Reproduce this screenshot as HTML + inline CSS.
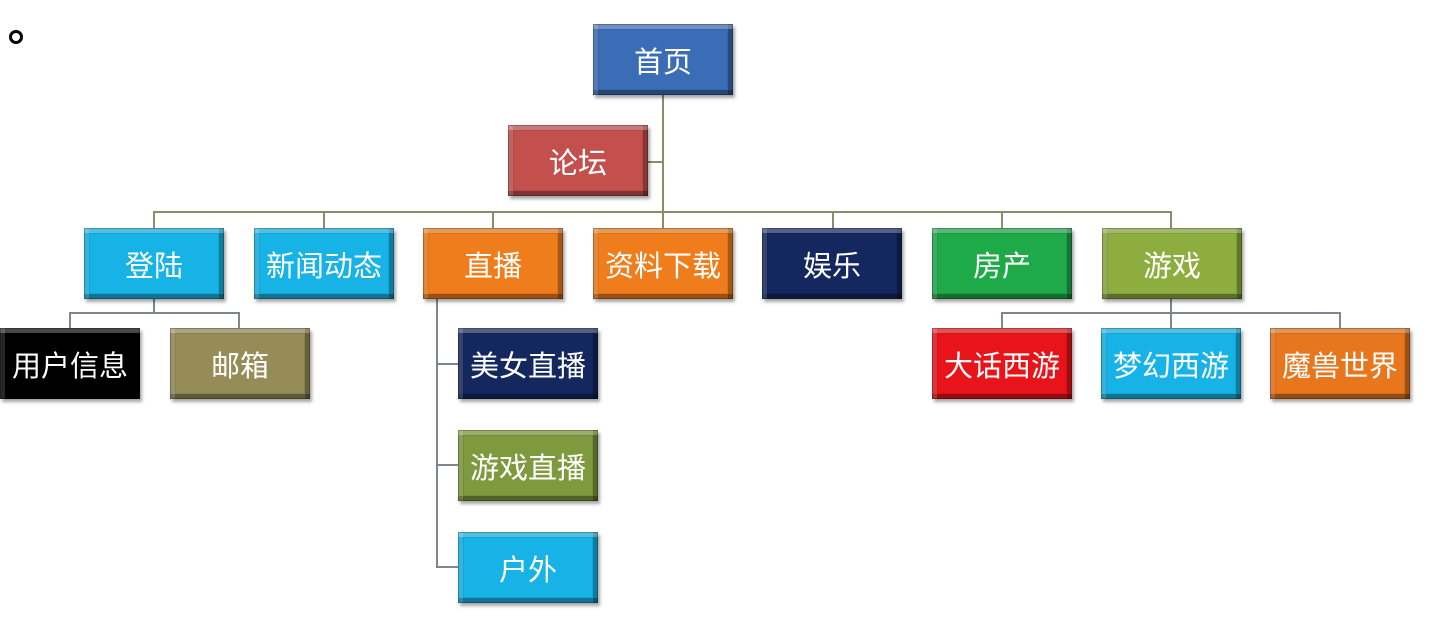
<!DOCTYPE html>
<html><head><meta charset="utf-8"><style>
body{margin:0;width:1453px;height:629px;background:#fff;position:relative;overflow:hidden;font-family:"Liberation Sans","Noto Sans CJK SC",sans-serif}
.b{position:absolute;width:140px;height:71px;box-sizing:border-box;color:#fff;font-size:29px;display:flex;align-items:center;justify-content:center;
box-shadow:inset 0 0 0 1px rgba(0,0,0,.25),inset 0 5px 0 rgba(255,255,255,.28),inset 5px 0 0 rgba(255,255,255,.15),inset -5px 0 0 rgba(0,0,0,.25),inset 0 -5px 0 rgba(0,0,0,.3),inset 0 0 0 6px rgba(0,0,0,.08),2px 3px 3px rgba(0,0,0,.35)}
.l{position:absolute;background:#8c8c6a}
.g{position:absolute;background:#7e8790}
</style></head><body>
<div style="position:absolute;left:9px;top:30px;width:8px;height:8px;border:3px solid #000;border-radius:50%"></div>
<!-- lines -->
<div class="l" style="left:662px;top:95px;width:2px;height:133px"></div>
<div class="l" style="left:648px;top:161px;width:15px;height:2px"></div>
<div class="l" style="left:153px;top:211px;width:1019px;height:2px"></div>
<div class="l" style="left:153px;top:211px;width:2px;height:17px"></div>
<div class="l" style="left:323px;top:211px;width:2px;height:17px"></div>
<div class="l" style="left:492px;top:211px;width:2px;height:17px"></div>
<div class="l" style="left:832px;top:211px;width:2px;height:17px"></div>
<div class="l" style="left:1001px;top:211px;width:2px;height:17px"></div>
<div class="l" style="left:1170px;top:211px;width:2px;height:17px"></div>
<div class="g" style="left:153px;top:298px;width:2px;height:15px"></div>
<div class="g" style="left:69px;top:312px;width:171px;height:2px"></div>
<div class="g" style="left:69px;top:312px;width:2px;height:16px"></div>
<div class="g" style="left:238px;top:312px;width:2px;height:16px"></div>
<div class="g" style="left:436px;top:298px;width:2px;height:270px"></div>
<div class="g" style="left:436px;top:363px;width:22px;height:2px"></div>
<div class="g" style="left:436px;top:464px;width:22px;height:2px"></div>
<div class="g" style="left:436px;top:566px;width:22px;height:2px"></div>
<div class="g" style="left:1170px;top:298px;width:2px;height:30px"></div>
<div class="g" style="left:1001px;top:312px;width:340px;height:2px"></div>
<div class="g" style="left:1001px;top:312px;width:2px;height:16px"></div>
<div class="g" style="left:1339px;top:312px;width:2px;height:16px"></div>
<!-- boxes -->
<div class="b" style="left:593px;top:24px;background:#3b6db6">首页</div>
<div class="b" style="left:508px;top:125px;background:#c4504e">论坛</div>
<div class="b" style="left:84px;top:228px;background:#17b3e6">登陆</div>
<div class="b" style="left:254px;top:228px;background:#17b3e6">新闻动态</div>
<div class="b" style="left:423px;top:228px;background:#f07d1c">直播</div>
<div class="b" style="left:593px;top:228px;background:#f07d1c">资料下载</div>
<div class="b" style="left:762px;top:228px;background:#14275e">娱乐</div>
<div class="b" style="left:932px;top:228px;background:#1faa4a">房产</div>
<div class="b" style="left:1102px;top:228px;background:#8dad3e">游戏</div>
<div class="b" style="left:0px;top:328px;background:#000">用户信息</div>
<div class="b" style="left:170px;top:328px;background:#958c58">邮箱</div>
<div class="b" style="left:458px;top:328px;background:#14275e">美女直播</div>
<div class="b" style="left:458px;top:430px;background:#7f9a3e">游戏直播</div>
<div class="b" style="left:458px;top:532px;background:#17b3e6">户外</div>
<div class="b" style="left:932px;top:328px;background:#e8141a">大话西游</div>
<div class="b" style="left:1101px;top:328px;background:#17b3e6">梦幻西游</div>
<div class="b" style="left:1270px;top:328px;background:#e8761c">魔兽世界</div>
</body></html>
